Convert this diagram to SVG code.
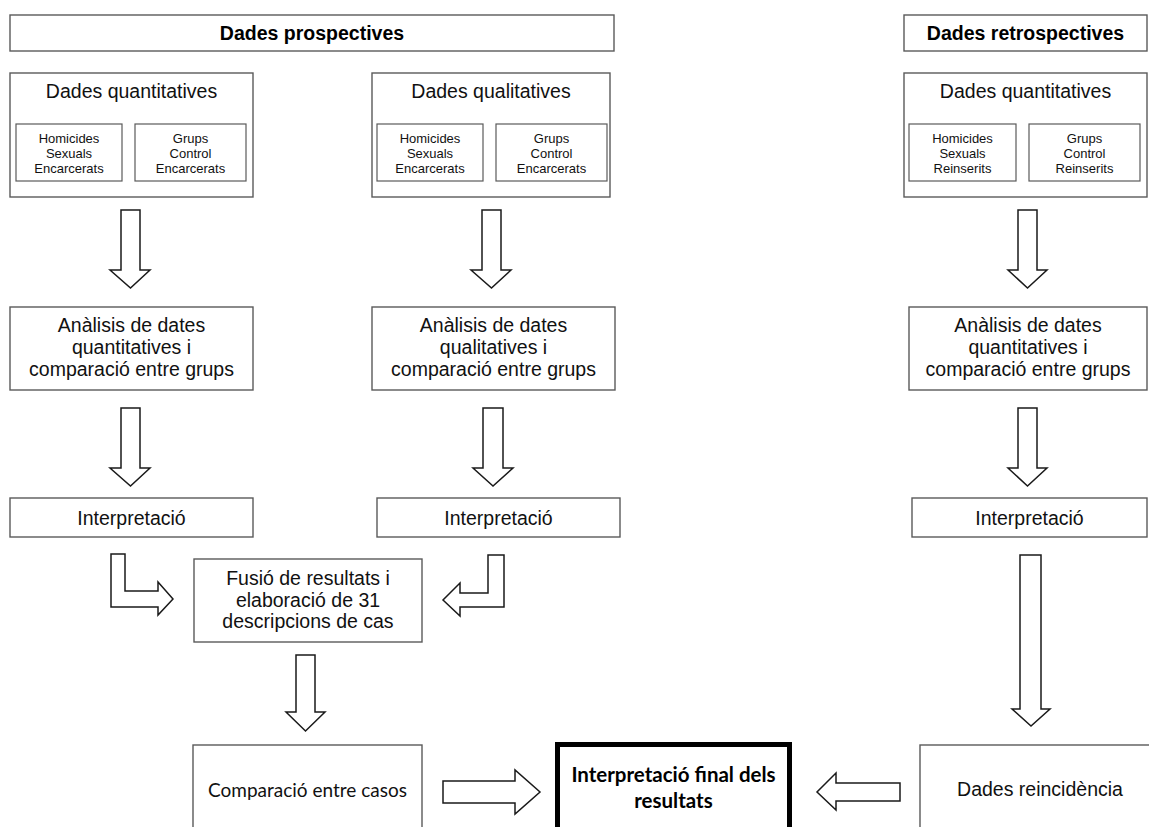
<svg xmlns="http://www.w3.org/2000/svg" width="1149" height="827" viewBox="0 0 1149 827">
<style>
.box{fill:#fff;stroke:#5a5a5a;stroke-width:1.4}
.ibox{fill:#fff;stroke:#5a5a5a;stroke-width:1.2}
.arr{fill:#fff;stroke:#1a1a1a;stroke-width:1.5;stroke-linejoin:miter}
.hd{font-family:"Liberation Sans",Arial,sans-serif;font-size:19.5px;font-weight:bold;fill:#000;text-anchor:middle}
.t{font-family:"Liberation Sans",Arial,sans-serif;font-size:19.5px;fill:#111;text-anchor:middle}
.s{font-family:"Liberation Sans",Arial,sans-serif;font-size:13px;fill:#111;text-anchor:middle}
.c{font-family:Lato,"Liberation Sans",sans-serif;font-size:19px;fill:#111;text-anchor:middle}
.cb{font-family:Lato,"Liberation Sans",sans-serif;font-size:20.5px;font-weight:bold;fill:#000;text-anchor:middle}
</style>
<rect width="1149" height="827" fill="#fff"/>

<g id="prospectives">
<rect class="box" x="10" y="15" width="604" height="36"/>
<text class="hd" x="312" y="40">Dades prospectives</text>
</g>
<g id="retrospectives">
<rect class="box" x="904" y="15" width="243" height="36"/>
<text class="hd" x="1025.5" y="40">Dades retrospectives</text>
</g>

<g id="quant-pros">
<rect class="box" x="10" y="73" width="243" height="124"/>
<text class="t" x="131.5" y="98">Dades quantitatives</text>
<rect class="ibox" x="16" y="124" width="106" height="57"/>
<text class="s" x="69" y="142.5">Homicides</text>
<text class="s" x="69" y="157.5">Sexuals</text>
<text class="s" x="69" y="172.5">Encarcerats</text>
<rect class="ibox" x="135" y="124" width="111" height="57"/>
<text class="s" x="190.5" y="142.5">Grups</text>
<text class="s" x="190.5" y="157.5">Control</text>
<text class="s" x="190.5" y="172.5">Encarcerats</text>
</g>

<g id="qual-pros">
<rect class="box" x="372" y="73" width="238" height="124"/>
<text class="t" x="491" y="98">Dades qualitatives</text>
<rect class="ibox" x="377" y="124" width="106" height="57"/>
<text class="s" x="430" y="142.5">Homicides</text>
<text class="s" x="430" y="157.5">Sexuals</text>
<text class="s" x="430" y="172.5">Encarcerats</text>
<rect class="ibox" x="496" y="124" width="111" height="57"/>
<text class="s" x="551.5" y="142.5">Grups</text>
<text class="s" x="551.5" y="157.5">Control</text>
<text class="s" x="551.5" y="172.5">Encarcerats</text>
</g>

<g id="quant-retro">
<rect class="box" x="904" y="73" width="243" height="124"/>
<text class="t" x="1025.5" y="98">Dades quantitatives</text>
<rect class="ibox" x="909" y="124" width="107" height="57"/>
<text class="s" x="962.5" y="142.5">Homicides</text>
<text class="s" x="962.5" y="157.5">Sexuals</text>
<text class="s" x="962.5" y="172.5">Reinserits</text>
<rect class="ibox" x="1029" y="124" width="111" height="57"/>
<text class="s" x="1084.5" y="142.5">Grups</text>
<text class="s" x="1084.5" y="157.5">Control</text>
<text class="s" x="1084.5" y="172.5">Reinserits</text>
</g>

<g id="anal-quant">
<rect class="box" x="10" y="307" width="243" height="83"/>
<text class="t" x="131.5" y="332">Anàlisis de dates</text>
<text class="t" x="131.5" y="354">quantitatives i</text>
<text class="t" x="131.5" y="376">comparació entre grups</text>
</g>
<g id="anal-qual">
<rect class="box" x="372" y="307" width="243" height="83"/>
<text class="t" x="493.5" y="332">Anàlisis de dates</text>
<text class="t" x="493.5" y="354">qualitatives i</text>
<text class="t" x="493.5" y="376">comparació entre grups</text>
</g>
<g id="anal-retro">
<rect class="box" x="909" y="307" width="238" height="83"/>
<text class="t" x="1028" y="332">Anàlisis de dates</text>
<text class="t" x="1028" y="354">quantitatives i</text>
<text class="t" x="1028" y="376">comparació entre grups</text>
</g>

<g id="interp-1">
<rect class="box" x="10" y="498" width="243" height="39"/>
<text class="t" x="131.5" y="525">Interpretació</text>
</g>
<g id="interp-2">
<rect class="box" x="377" y="498" width="243" height="39"/>
<text class="t" x="498.5" y="525">Interpretació</text>
</g>
<g id="interp-3">
<rect class="box" x="912" y="498" width="235" height="39"/>
<text class="t" x="1029.5" y="525">Interpretació</text>
</g>

<g id="fusio">
<rect class="box" x="194" y="559" width="228" height="83"/>
<text class="t" x="308" y="585">Fusió de resultats i</text>
<text class="t" x="308" y="606.5">elaboració de 31</text>
<text class="t" x="308" y="628">descripcions de cas</text>
</g>

<g id="comparacio">
<rect class="box" x="193" y="745" width="229" height="100"/>
<text class="c" x="307.5" y="797">Comparació entre casos</text>
</g>

<g id="final">
<rect x="557.5" y="744.5" width="232" height="100" fill="#fff" stroke="#000" stroke-width="5"/>
<text class="cb" x="673.5" y="782">Interpretació final dels</text>
<text class="cb" x="673.5" y="808">resultats</text>
</g>

<g id="reincidencia">
<rect class="box" x="920" y="745" width="240" height="100"/>
<text class="t" x="1040" y="796">Dades reincidència</text>
</g>

<g id="connectors">
<polygon class="arr" points="121,210 140,210 140,270 150,270 130.5,288 110,270 121,270"/>
<polygon class="arr" points="482,210 501,210 501,270 511,270 491.5,288 471,270 482,270"/>
<polygon class="arr" points="1018,210 1037,210 1037,270 1047,270 1027.5,288 1008,270 1018,270"/>
<polygon class="arr" points="121,408 140,408 140,468 150,468 130.5,486 110,468 121,468"/>
<polygon class="arr" points="483,408 503,408 503,468 513,468 493,486 473,468 483,468"/>
<polygon class="arr" points="1018,408 1037,408 1037,468 1047,468 1027.5,486 1008,468 1018,468"/>
<polygon class="arr" points="111,554 125,554 125,591 158,591 158,582 173,599 158,615 158,607 111,607"/>
<polygon class="arr" points="504,555 488,555 488,593 460,593 460,583 443,600 460,616 460,607 504,607"/>
<polygon class="arr" points="296,655 315,655 315,712 325,712 305.5,731 286,712 296,712"/>
<polygon class="arr" points="1020,555 1041,555 1041,709 1050,709 1031,726 1012,709 1020,709"/>
<polygon class="arr" points="443,781 515,781 515,770 540,792 515,814 515,803 443,803"/>
<polygon class="arr" points="900,783 836,783 836,773 817,792 836,810 836,801 900,801"/>
</g>
</svg>
